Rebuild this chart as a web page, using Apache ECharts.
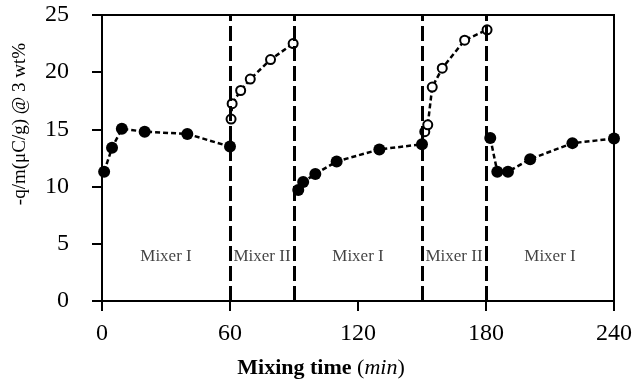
<!DOCTYPE html>
<html>
<head>
<meta charset="utf-8">
<script src="https://cdn.jsdelivr.net/npm/echarts@6/dist/echarts.min.js"></script>
<style>html,body{margin:0;padding:0;background:#fff}#c{width:635px;height:384px}</style>
</head>
<body>
<div id="c"></div>
<script>
// Data
const xTicks = [0, 60, 120, 180, 240];
const yTicks = [0, 5, 10, 15, 20, 25];
const phaseBounds = [0, 60, 90, 150, 180, 240];
const phaseNames = ['Mixer I', 'Mixer II', 'Mixer I', 'Mixer II', 'Mixer I'];
const switchTimes = [60, 90, 150, 180];

const s1x = [1, 4.7, 9.3, 20, 40, 60];
const s1y = [11.3, 13.4, 15.05, 14.8, 14.6, 13.5];
const s2x = [60.5, 61, 65, 69.5, 79, 89.6];
const s2y = [15.9, 17.25, 18.4, 19.4, 21.1, 22.5];
const s3x = [92, 94.3, 100, 110, 130, 150];
const s3y = [9.7, 10.4, 11.1, 12.2, 13.25, 13.7];
const s4x = [151.3, 152.7, 154.8, 159.5, 170, 180.5];
const s4y = [14.8, 15.4, 18.7, 20.35, 22.8, 23.7];
const s5x = [182, 185.3, 190.3, 200.7, 220.5, 240];
const s5y = [14.25, 11.3, 11.3, 12.4, 13.8, 14.2];

const filledSegs = [[s1x, s1y], [s3x, s3y], [s5x, s5y]];
const openSegs = [[s2x, s2y], [s4x, s4y]];

const FONT = '"Liberation Serif", "Times New Roman", serif';
const zip = (xs, ys) => xs.map((x, i) => [x, ys[i]]);

const lineStyle = { color: '#000', width: 2.5, type: [5, 3] };
const series = [];
filledSegs.forEach(([xs, ys]) => series.push({
  type: 'line', data: zip(xs, ys), clip: false,
  symbol: 'circle', symbolSize: 12,
  itemStyle: { color: '#000' }, lineStyle: lineStyle
}));
openSegs.forEach(([xs, ys]) => series.push({
  type: 'line', data: zip(xs, ys), clip: false,
  symbol: 'circle', symbolSize: 9,
  itemStyle: { color: '#fff', borderColor: '#000', borderWidth: 2 }, lineStyle: lineStyle
}));
// phase labels, centred in each interval
series.push({
  type: 'scatter', symbolSize: 1, itemStyle: { color: 'rgba(0,0,0,0)' },
  data: phaseNames.map((n, i) => [(phaseBounds[i] + phaseBounds[i + 1]) / 2, 3.9, n]),
  label: { show: true, position: 'inside', formatter: p => p.value[2],
           fontFamily: FONT, fontSize: 17, color: '#111' },
  silent: true, z: 1
});
// vertical phase switch lines
series.push({
  type: 'line', data: [], silent: true,
  markLine: {
    symbol: 'none', silent: true, animation: false,
    label: { show: false },
    lineStyle: { color: '#000', width: 3, type: [15, 5] },
    data: switchTimes.map(t => ({ xAxis: t }))
  }
});

const chart = echarts.init(document.getElementById('c'));
chart.setOption({
  animation: false,
  backgroundColor: '#fff',
  grid: { left: 102, right: 18, top: 15, bottom: 82, show: true, borderColor: '#000', borderWidth: 2, backgroundColor: 'transparent' },
  xAxis: {
    type: 'value', min: xTicks[0], max: xTicks[xTicks.length - 1], interval: xTicks[1] - xTicks[0],
    axisLine: { lineStyle: { color: '#000', width: 2 } },
    axisTick: { inside: false, length: 10, lineStyle: { color: '#000', width: 2 } },
    splitLine: { show: false },
    axisLabel: { fontFamily: FONT, fontSize: 24, color: '#000', margin: 21 },
    name: '{b|Mixing time} ({i|min})',
    nameLocation: 'middle', nameGap: 56,
    nameTextStyle: {
      fontFamily: FONT, fontSize: 22, color: '#000', padding: [0, 74, 0, 0],
      rich: {
        b: { fontFamily: FONT, fontSize: 22, fontWeight: 'bold', color: '#000' },
        i: { fontFamily: FONT, fontSize: 22, fontStyle: 'italic', color: '#000' }
      }
    }
  },
  yAxis: {
    type: 'value', min: yTicks[0], max: yTicks[yTicks.length - 1], interval: yTicks[1] - yTicks[0],
    axisLine: { show: true, lineStyle: { color: '#000', width: 2 } },
    axisTick: { show: true, inside: false, length: 10, lineStyle: { color: '#000', width: 2 } },
    splitLine: { show: false },
    axisLabel: { fontFamily: FONT, fontSize: 24, color: '#000', margin: 33 },
    name: '-q/m(\u03bcC/g) @ 3 wt%',
    nameLocation: 'middle', nameGap: 72,
    nameTextStyle: { fontFamily: FONT, fontSize: 19, color: '#000', padding: [0, 0, 0, 68] }
  },
  series: series
});
</script>
</body>
</html>
